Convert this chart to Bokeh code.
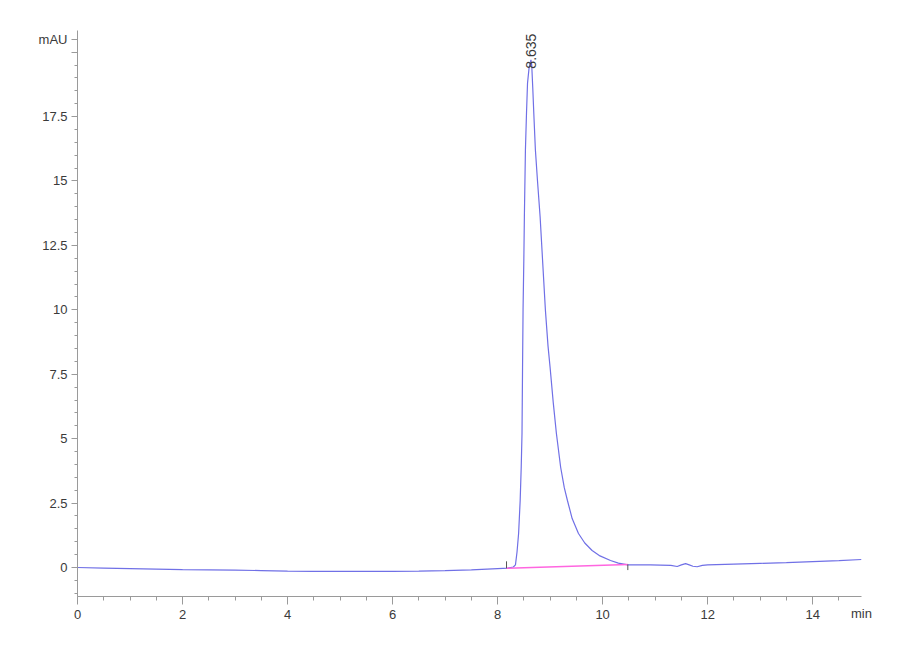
from bokeh.plotting import figure
from bokeh.models import Range1d, FixedTicker
from bokeh.core.properties import value
from bokeh.embed import file_html
from bokeh.resources import INLINE

# retention time (min) and signal (mAU)
time_min = [0, 0.5, 1, 1.5, 2, 2.5, 3, 3.5, 4, 4.5, 5, 5.5, 6, 6.5, 7, 7.5, 7.8, 8.0, 8.2,
            8.30, 8.34, 8.37, 8.40, 8.43, 8.45, 8.465, 8.475, 8.485, 8.50, 8.51, 8.53, 8.55,
            8.57, 8.60, 8.635, 8.65, 8.67, 8.69, 8.72, 8.76, 8.81, 8.86, 8.91, 8.96, 9.0,
            9.06, 9.12, 9.2, 9.27, 9.33, 9.42, 9.54, 9.66, 9.8, 9.95, 10.15, 10.3, 10.48,
            10.7, 10.91, 11.1, 11.3, 11.42, 11.5, 11.58, 11.65, 11.72, 11.8, 11.9, 12.0,
            12.5, 13.0, 13.5, 14.0, 14.5, 14.93]
signal_mau = [0.0, -0.02, -0.04, -0.06, -0.08, -0.09, -0.10, -0.12, -0.14, -0.15, -0.15,
              -0.15, -0.15, -0.14, -0.12, -0.09, -0.06, -0.04, -0.02,
              0.02, 0.10, 0.6, 1.32, 2.6, 3.9, 5.2, 7.7, 10.0, 12.0, 13.6, 16.2, 17.6,
              18.8, 19.4, 19.7, 19.5, 18.6, 17.6, 16.2, 15.0, 13.6, 11.8, 10.0, 8.6, 7.76,
              6.4, 5.2, 3.9, 3.1, 2.6, 1.9, 1.32, 0.95, 0.66, 0.45, 0.27, 0.17, 0.10,
              0.10, 0.10, 0.09, 0.08, 0.04, 0.10, 0.15, 0.10, 0.05, 0.03, 0.08, 0.10,
              0.13, 0.16, 0.19, 0.23, 0.27, 0.31]

# integration baseline
base_t = [8.17, 10.48]
base_y = [-0.03, 0.12]

peak_rt = 8.635
peak_label = "8.635"

x_ticks = [0, 2, 4, 6, 8, 10, 12, 14]
y_ticks = [0, 2.5, 5, 7.5, 10, 12.5, 15, 17.5, 20, 20.5]
y_unit = "mAU"
x_unit = "min"

FONT = "Liberation Sans"
TXT = "#3a3a3a"
AX = "#9a9a9a"

p = figure(width=880, height=648, output_backend="svg", toolbar_location=None,
           x_range=Range1d(0, 14.93), y_range=Range1d(-1.125, 20.84),
           min_border_left=77, min_border_right=19, min_border_top=30, min_border_bottom=52)
p.outline_line_color = None
p.grid.visible = False
p.background_fill_color = "white"
p.border_fill_color = "white"

p.xaxis.ticker = FixedTicker(ticks=x_ticks, minor_ticks=[i * 0.5 for i in range(0, 30)])
p.yaxis.ticker = FixedTicker(ticks=y_ticks, minor_ticks=[i * 0.5 for i in range(-2, 42)])
p.yaxis.major_label_overrides = {20: "", 20.5: y_unit}

for ax in (p.xaxis, p.yaxis):
    ax.axis_line_color = AX
    ax.major_tick_line_color = AX
    ax.minor_tick_line_color = AX
    ax.major_tick_in = 0
    ax.minor_tick_in = 0
    ax.major_label_text_font = FONT
    ax.major_label_text_font_size = "13px"
    ax.major_label_text_color = TXT
p.xaxis.major_tick_out = 8
p.xaxis.minor_tick_out = 4
p.xaxis.major_label_standoff = 5
p.yaxis.major_tick_out = 6
p.yaxis.minor_tick_out = 3
p.yaxis.major_label_standoff = 4

xa = p.xaxis[0]
xa.axis_label = x_unit
xa.axis_label_text_font = FONT
xa.axis_label_text_font_size = "13px"
xa.axis_label_text_font_style = "normal"
xa.axis_label_text_color = TXT
xa.axis_label_standoff = -16
for opt in ("end", "right"):
    try:
        xa.axis_label_align = opt
        break
    except Exception:
        pass

p.line(time_min, signal_mau, line_color="#7070e6", line_width=1.2)
p.line(base_t, base_y, line_color="#ff66e0", line_width=1.5)

# baseline start/end marks
p.segment(x0=[base_t[0], base_t[1]], y0=[base_y[0], base_y[1]],
          x1=[base_t[0], base_t[1]], y1=[base_y[0] + 0.27, base_y[1] - 0.22],
          line_color="#555555", line_width=1)

p.text(x=[peak_rt], y=[19.36], text=[peak_label], angle=1.5708,
       text_align="left", text_baseline="middle", text_font=value(FONT),
       text_font_size="14px", text_color=TXT)

open("out.html", "w").write(file_html(p, INLINE))
